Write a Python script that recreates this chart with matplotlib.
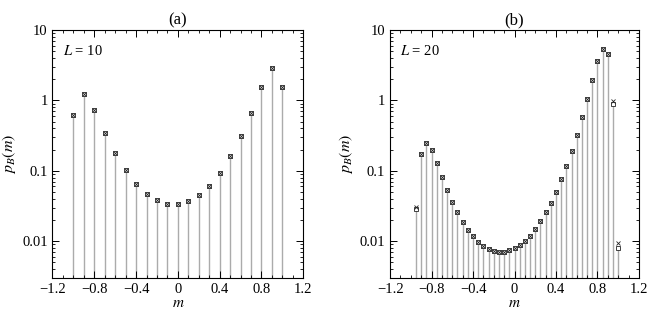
import matplotlib

matplotlib.use("Agg")
import matplotlib.pyplot as plt  # noqa: E402
import numpy as np  # noqa: E402
from matplotlib.ticker import FixedLocator, LogLocator, NullFormatter  # noqa: E402

plt.rcParams["font.family"] = ["Liberation Serif", "DejaVu Serif"]
plt.rcParams["mathtext.fontset"] = "stix"
plt.rcParams["font.size"] = 10

# panel (a): L = 10
m_a = [-1.0, -0.9, -0.8, -0.7, -0.6, -0.5, -0.4, -0.3, -0.2, -0.1, 0.0,
       0.1, 0.2, 0.3, 0.4, 0.5, 0.6, 0.7, 0.8, 0.9, 1.0]
sq_a = [0.63, 1.25, 0.74, 0.35, 0.18, 0.102, 0.066, 0.047, 0.038, 0.034, 0.034,
        0.037, 0.045, 0.061, 0.094, 0.16, 0.31, 0.66, 1.56, 2.9, 1.56]
x_a = sq_a

# panel (b): L = 20
m_b = [-0.95, -0.9, -0.85, -0.8, -0.75, -0.7, -0.65, -0.6, -0.55, -0.5,
       -0.45, -0.4, -0.35, -0.3, -0.25, -0.2, -0.15, -0.1, -0.05, 0.0,
       0.05, 0.1, 0.15, 0.2, 0.25, 0.3, 0.35, 0.4, 0.45, 0.5,
       0.55, 0.6, 0.65, 0.7, 0.75, 0.8, 0.85, 0.9, 0.95, 1.0]
sq_b = [0.029, 0.175, 0.25, 0.195, 0.129, 0.082, 0.054, 0.036, 0.026, 0.019,
        0.0145, 0.0118, 0.0099, 0.0085, 0.0077, 0.0073, 0.0071, 0.0071, 0.0075, 0.0081,
        0.0089, 0.0102, 0.012, 0.015, 0.0193, 0.026, 0.035, 0.050, 0.076, 0.117,
        0.19, 0.32, 0.575, 1.04, 1.98, 3.6, 5.4, 4.6, 0.90, 0.0080]
x_b = [0.031, 0.175, 0.25, 0.195, 0.129, 0.082, 0.054, 0.036, 0.026, 0.019,
       0.0145, 0.0118, 0.0099, 0.0085, 0.0077, 0.0073, 0.0071, 0.0071, 0.0075, 0.0081,
       0.0089, 0.0102, 0.012, 0.015, 0.0193, 0.026, 0.035, 0.050, 0.076, 0.117,
       0.19, 0.32, 0.575, 1.04, 1.98, 3.6, 5.4, 4.6, 0.97, 0.0093]

YMIN, YMAX = 0.003, 10


def _panel(ax, m, sq, xx, title, label):
    ax.vlines(m, YMIN, sq, color="#ababab", lw=1.0, zorder=1)
    ax.plot(m, sq, ls="none", marker="s", ms=3.4, mfc="white", mec="#222222",
            mew=0.6, zorder=3)
    ax.plot(m, xx, ls="none", marker="x", ms=3.0, color="#222222", mew=0.6, zorder=4)
    ax.set_yscale("log")
    ax.set_ylim(YMIN, YMAX)
    ax.set_xlim(-1.2, 1.2)
    ax.set_xticks([-1.2, -0.8, -0.4, 0, 0.4, 0.8, 1.2])
    ax.set_xticklabels(["\u22121.2", "\u22120.8", "\u22120.4", "0", "0.4", "0.8", "1.2"])
    ax.xaxis.set_minor_locator(FixedLocator(np.arange(-1.2, 1.21, 0.1)))
    ax.set_yticks([0.01, 0.1, 1, 10])
    ax.set_yticklabels(["0.01", "0.1", "1", "10"])
    ax.yaxis.set_minor_locator(LogLocator(base=10, subs=np.arange(2, 10), numticks=20))
    ax.yaxis.set_minor_formatter(NullFormatter())
    ax.tick_params(which="both", direction="in", top=True, right=True, labelsize=10.5)
    ax.tick_params(which="major", length=5, width=0.7)
    ax.tick_params(which="minor", length=2.5, width=0.6)
    for s in ax.spines.values():
        s.set_linewidth(0.8)
    ax.set_title(title, fontsize=12, pad=4)
    ax.set_xlabel("$m$", fontsize=11, labelpad=1)
    ax.set_ylabel("$p_B(m)$", fontsize=11.5, labelpad=3)
    ax.text(0.04, 0.9, label, transform=ax.transAxes, fontsize=10.5)


fig = plt.figure(figsize=(6.48, 3.16), dpi=100)
ax1 = fig.add_axes([0.081, 0.120, 0.387, 0.785])
ax2 = fig.add_axes([0.602, 0.120, 0.384, 0.785])
_panel(ax1, m_a, sq_a, x_a, "(a)", "$L$ = 10")
_panel(ax2, m_b, sq_b, x_b, "(b)", "$L$ = 20")
fig.savefig("out.png", dpi=100)
